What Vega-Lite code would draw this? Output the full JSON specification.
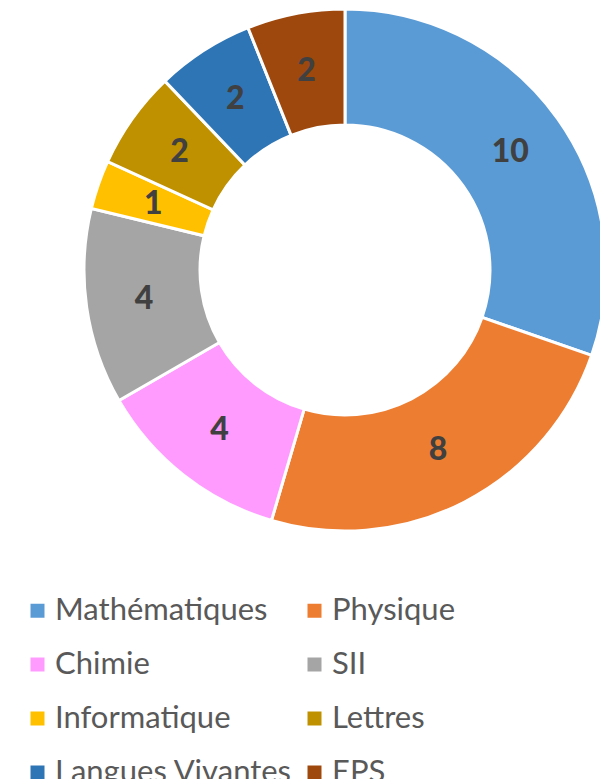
{
  "$schema": "https://vega.github.io/schema/vega-lite/v6.json",
  "width": 510,
  "height": 524,
  "autosize": {"type": "none"},
  "padding": {"left": 90, "top": 8, "right": 0, "bottom": 247},
  "background": "white",
  "config": {"view": {"stroke": null}},
  "data": {
    "values": [
      {"matiere": "Mathématiques", "heures": 10, "rang": 1},
      {"matiere": "Physique", "heures": 8, "rang": 2},
      {"matiere": "Chimie", "heures": 4, "rang": 3},
      {"matiere": "SII", "heures": 4, "rang": 4},
      {"matiere": "Informatique", "heures": 1, "rang": 5},
      {"matiere": "Lettres", "heures": 2, "rang": 6},
      {"matiere": "Langues Vivantes", "heures": 2, "rang": 7},
      {"matiere": "EPS", "heures": 2, "rang": 8}
    ]
  },
  "encoding": {
    "theta": {"field": "heures", "type": "quantitative", "stack": true},
    "order": {"field": "rang", "type": "quantitative"}
  },
  "layer": [
    {
      "mark": {"type": "arc", "innerRadius": 145, "outerRadius": 261, "stroke": "white", "strokeWidth": 3},
      "encoding": {
        "color": {
          "field": "matiere",
          "type": "nominal",
          "scale": {
            "domain": ["Mathématiques", "Physique", "Chimie", "SII", "Informatique", "Lettres", "Langues Vivantes", "EPS"],
            "range": ["#5B9BD5", "#ED7D31", "#FF9BFF", "#A5A5A5", "#FFC000", "#BF9000", "#2E75B6", "#9E480E"]
          },
          "legend": {
            "orient": "none",
            "legendX": -68,
            "legendY": 587,
            "columns": 2,
            "values": ["Mathématiques", "Chimie", "Informatique", "Langues Vivantes", "Physique", "SII", "Lettres", "EPS"],
            "title": null,
            "padding": 0,
            "symbolType": "square",
            "symbolSize": 196,
            "symbolStrokeWidth": 0,
            "symbolOpacity": 1,
            "labelFont": "Lato",
            "labelFontSize": 31,
            "labelColor": "#595959",
            "labelOffset": 2,
            "labelLimit": 0,
            "rowPadding": 22,
            "columnPadding": 6
          }
        }
      }
    },
    {
      "mark": {"type": "text", "radius": 203, "font": "Lato", "fontWeight": 900, "fontSize": 32, "fill": "#404040"},
      "encoding": {
        "text": {"field": "heures", "type": "quantitative"}
      }
    }
  ]
}
